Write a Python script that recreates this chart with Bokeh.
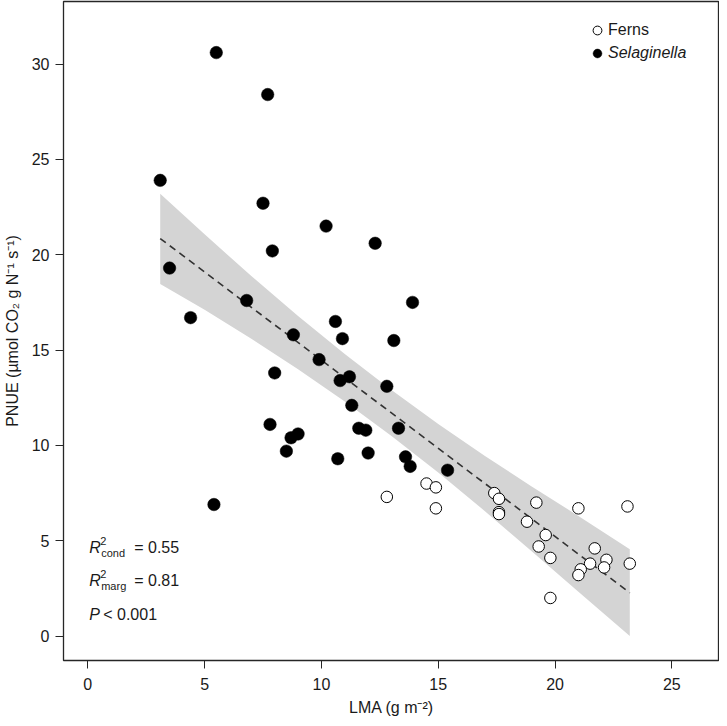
from bokeh.plotting import figure
from bokeh.models import Range1d, FixedTicker, Label, Legend, LegendItem
from bokeh.embed import file_html
from bokeh.resources import INLINE

# ---------------- data ----------------
fern_lma = [12.8, 14.5, 14.9, 14.9, 17.4, 17.6, 17.6, 17.6, 19.2, 18.8, 19.6, 19.3,
            19.8, 19.8, 21.0, 23.1, 21.7, 21.5, 21.1, 21.0, 22.2, 22.1, 23.2]
fern_pnue = [7.3, 8.0, 7.8, 6.7, 7.5, 7.2, 6.5, 6.4, 7.0, 6.0, 5.3, 4.7,
             4.1, 2.0, 6.7, 6.8, 4.6, 3.8, 3.5, 3.2, 4.0, 3.6, 3.8]

sel_lma = [5.5, 7.7, 3.1, 7.5, 10.2, 7.9, 12.3, 3.5, 6.8, 4.4, 8.8, 10.6, 10.9,
           13.1, 9.9, 8.0, 11.2, 10.8, 12.8, 11.3, 7.8, 11.6, 11.9, 13.3, 9.0,
           8.7, 8.5, 10.7, 12.0, 13.6, 13.8, 15.4, 5.4, 13.9]
sel_pnue = [30.6, 28.4, 23.9, 22.7, 21.5, 20.2, 20.6, 19.3, 17.6, 16.7, 15.8, 16.5, 15.6,
            15.5, 14.5, 13.8, 13.6, 13.4, 13.1, 12.1, 11.1, 10.9, 10.8, 10.9, 10.6,
            10.4, 9.7, 9.3, 9.6, 9.4, 8.9, 8.7, 6.9, 17.5]

fit_lma = [3.1, 23.2]
fit_pnue = [20.85, 2.27]

band_lma = [3.1, 5, 7, 9, 11, 13, 15, 17, 19, 21, 23.2]
band_upper = [23.2, 21.07, 18.88, 16.79, 14.8, 12.9, 11.12, 9.45, 7.85, 6.3, 4.55]
band_lower = [18.47, 17.11, 15.6, 13.99, 12.3, 10.5, 8.58, 6.55, 4.45, 2.32, 0.0]

x_ticks = [0, 5, 10, 15, 20, 25]
y_ticks = [0, 5, 10, 15, 20, 25, 30]

r2_cond = "0.55"
r2_marg = "0.81"
p_text = "< 0.001"

FONT = "Liberation Sans"
INK = "#1a1a1a"

p = figure(width=719, height=718, output_backend="svg", toolbar_location=None,
           x_range=Range1d(-1.04, 27.04), y_range=Range1d(-1.28, 33.28),
           min_border_left=62, min_border_right=0, min_border_top=1,
           min_border_bottom=58)
p.xgrid.visible = False
p.ygrid.visible = False
p.outline_line_color = "#262626"
p.outline_line_width = 1.3
p.background_fill_color = "white"

for ax in (p.xaxis[0], p.yaxis[0]):
    ax.axis_line_color = None
    ax.major_tick_out = 8
    ax.major_tick_in = 0
    ax.minor_tick_out = 0
    ax.minor_tick_in = 0
    ax.major_tick_line_color = "#262626"
    ax.major_tick_line_width = 1
    ax.major_label_text_font = FONT
    ax.major_label_text_font_size = "16px"
    ax.major_label_text_color = INK
    ax.axis_label_text_font = FONT
    ax.axis_label_text_font_style = "normal"
    ax.axis_label_text_font_size = "16px"
    ax.axis_label_text_color = INK

p.xaxis.ticker = FixedTicker(ticks=x_ticks)
p.yaxis.ticker = FixedTicker(ticks=y_ticks)
p.xaxis.major_label_standoff = 9
p.xaxis.axis_label_standoff = 6
p.yaxis.major_label_standoff = 6
p.yaxis.axis_label_standoff = 8
p.xaxis.axis_label = "LMA (g m\u207b\u00b2)"
p.yaxis.axis_label = "PNUE (\u00b5mol CO\u2082 g N\u207b\u00b9 s\u207b\u00b9)"

# confidence band and fitted line
p.varea(x=band_lma, y1=band_lower, y2=band_upper, fill_color="#d4d4d4")
p.line(fit_lma, fit_pnue, line_dash="7 5", line_color="#333333", line_width=1.6)

# points
ferns = p.scatter(fern_lma, fern_pnue, size=11.5, fill_color="white",
                  line_color="black", line_width=1)
sel = p.scatter(sel_lma, sel_pnue, size=12.5, fill_color="black",
                line_color="black", line_width=0.5)

# legends (two, so that only Selaginella is italic)
common = dict(border_line_color=None, background_fill_alpha=0, padding=0, margin=0,
              glyph_width=22, glyph_height=22, label_standoff=0, spacing=0,
              label_height=22, label_text_font=FONT, label_text_font_size="16px",
              label_text_color=INK, label_text_baseline="middle")
leg1 = Legend(items=[LegendItem(label="Ferns", renderers=[ferns])],
              location=(523, 619), **common)
leg2 = Legend(items=[LegendItem(label="Selaginella", renderers=[sel])],
              location=(523, 596), label_text_font_style="italic", **common)
p.add_layout(leg1)
p.add_layout(leg2)

# statistics text
def lab(y, text, dx=0, dy=0, size="16px", style="normal"):
    p.add_layout(Label(x=0.06, y=y, x_offset=dx, y_offset=dy, text=text,
                       text_font=FONT, text_font_size=size, text_font_style=style,
                       text_color=INK, text_baseline="alphabetic", text_align="left"))

lab(4.62, "R", style="italic")
lab(4.62, "2", dx=11, dy=7, size="11px")
lab(4.62, "cond", dx=12, dy=-5, size="11px")
lab(4.62, "= " + r2_cond, dx=45)

lab(2.90, "R", style="italic")
lab(2.90, "2", dx=11, dy=7, size="11px")
lab(2.90, "marg", dx=12, dy=-5, size="11px")
lab(2.90, "= " + r2_marg, dx=45)

lab(1.13, "P", style="italic")
lab(1.13, p_text, dx=14)

open("out.html", "w").write(file_html(p, INLINE))
